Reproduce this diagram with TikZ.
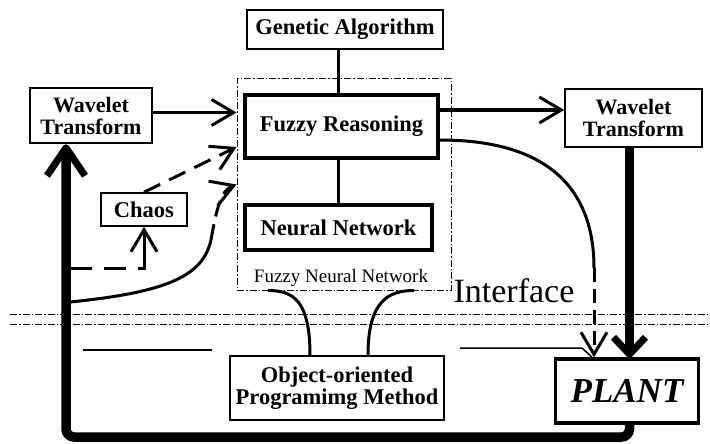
\documentclass[tikz,border=0pt]{standalone}
\usepackage{fontspec}
\setmainfont{Liberation Serif}
\usetikzlibrary{arrows.meta}
\begin{document}
\begin{tikzpicture}[x=1pt,y=-1pt,
  box/.style={draw,line width=1.5pt,inner sep=0pt,align=center,font=\fontsize{22.5}{22}\selectfont\bfseries},
  tbox/.style={box,line width=3.5pt},
  conn/.style={line width=3pt},
  arr/.style={line width=3pt,-{Straight Barb[length=22pt,width=26pt,line width=3pt]}},
  dasharr/.style={arr,dash pattern=on 18pt off 10pt},
  thickline/.style={line width=9.5pt},
  thickhead/.style={line width=7pt,line join=round},
  dashdot/.style={line width=1pt,dash pattern=on 7pt off 2pt on 1.5pt off 2pt}]
\useasboundingbox (0,0) rectangle (710,444);
\fill[white] (0,0) rectangle (710,444);

% dash-dot separator lines
\coordinate (s1) at (10,314); \coordinate (s2) at (710,314);
\coordinate (s3) at (10,324); \coordinate (s4) at (710,324);
\draw[dashdot] (s1) -- (s2);
\draw[dashdot] (s3) -- (s4);

% boxes
\node[box,minimum width=196pt,minimum height=39pt] (ga) at (345,29.5) {Genetic Algorithm};
\node[draw,dashdot,minimum width=214pt,minimum height=211pt,inner sep=0pt] (fnn) at (344,184.5) {};
\node[tbox,minimum width=193pt,minimum height=63pt] (fr) at (341.5,126.5) {\raisebox{5pt}{Fuzzy Reasoning}};
\node[tbox,minimum width=187pt,minimum height=45pt] (nn) at (338.5,227.5) {Neural Network};
\node[font=\fontsize{19}{19}\selectfont,inner sep=0pt] (fnnl) at (341,278) {Fuzzy Neural Network};
\node[box,minimum width=122pt,minimum height=55pt,font=\fontsize{22}{22}\selectfont\bfseries] (wl) at (91,115.5) {Wavelet\\Transform};
\node[box,minimum width=137pt,minimum height=58pt,font=\fontsize{22}{22}\selectfont\bfseries] (wr) at (633.5,118) {Wavelet\\Transform};
\node[box,minimum width=86pt,minimum height=33pt] (chaos) at (144,209.5) {Chaos};
\node[box,minimum width=214pt,minimum height=64pt] (oop) at (337,388) {Object-oriented\\Programimg Method};
\node[tbox,minimum width=143pt,minimum height=64pt,font=\fontsize{35}{36}\selectfont\bfseries\itshape] (plant) at (627,391) {PLANT};
\node[font=\fontsize{34}{34}\selectfont,inner sep=0pt] (intf) at (514,291) {Interface};

% internal connections
\draw[conn] (ga.south -| nn.center) -- (fr.north -| nn.center);
\draw[conn] (fr.south -| nn.center) -- (nn.north);

% arrows
\draw[arr] ([yshift=3pt]wl.east) -- ([yshift=3pt]wl.east -| fnn.west);
\draw[arr] ([yshift=8pt]wr.west -| fr.east) -- ([yshift=8pt]wr.west);
\coordinate (c1) at (594,268);
\draw[conn] ([yshift=-13.5pt]fr.east) .. controls (560,140) and (594,200) .. (c1);
\draw[arr,dash pattern=on 14pt off 7pt] (c1) -- (c1 |- plant.north);

% thick arrow Wavelet -> PLANT
\coordinate (tp) at ([xshift=-4pt]wr.south |- plant.north);
\draw[thickline] ([xshift=-4pt]wr.south) -- ([yshift=4pt]tp);
\draw[thickhead] ([xshift=-16pt,yshift=20pt]tp) -- ([yshift=3pt]tp) -- ([xshift=16pt,yshift=20pt]tp);

% feedback loop
\coordinate (lb) at (66,437);
\coordinate (tl) at (lb |- wl.south);
\draw[thickline,rounded corners=8pt] ([xshift=-4pt]plant.south -| wr.south) |- (lb) -- ([yshift=-5pt]tl);
\draw[thickhead] ([xshift=-19pt,yshift=-32pt]tl) -- ([yshift=-4pt]tl) -- ([xshift=19pt,yshift=-32pt]tl);

% chaos paths
\draw[dasharr] (chaos.north) -- ([yshift=37.5pt]fnn.west);
\coordinate (l1) at (70,268);
\draw[arr,dash pattern=on 22pt off 12pt on 22pt off 12pt on 60pt] (l1) -| (chaos.south);
\coordinate (l2) at (70,302);
\coordinate (l3) at (211,240);
\draw[conn] (l2) .. controls (170,292) and (203,275) .. (l3);
\draw[arr,dash pattern=on 16pt off 8pt] (l3) .. controls (217,205) and (222,190) .. (fnn.west);

% OOP curves
\draw[conn] ([xshift=-27pt]oop.north) .. controls +(0,-55) and +(25,0) .. ([xshift=-76pt]fnn.south);
\draw[conn] ([xshift=31pt]oop.north) .. controls +(0,-55) and +(-25,0) .. ([xshift=70pt]fnn.south);

% thin horizontal lines
\coordinate (h1) at (83,350); \coordinate (h2) at (212,350);
\draw[line width=1.5pt] (h1) -- (h2);
\coordinate (h3) at (460,348); \coordinate (h4) at (582,348);
\draw[line width=1.5pt] (h3) -- (h4) -- ([xshift=-2pt]c1 |- plant.north);
\end{tikzpicture}
\end{document}
